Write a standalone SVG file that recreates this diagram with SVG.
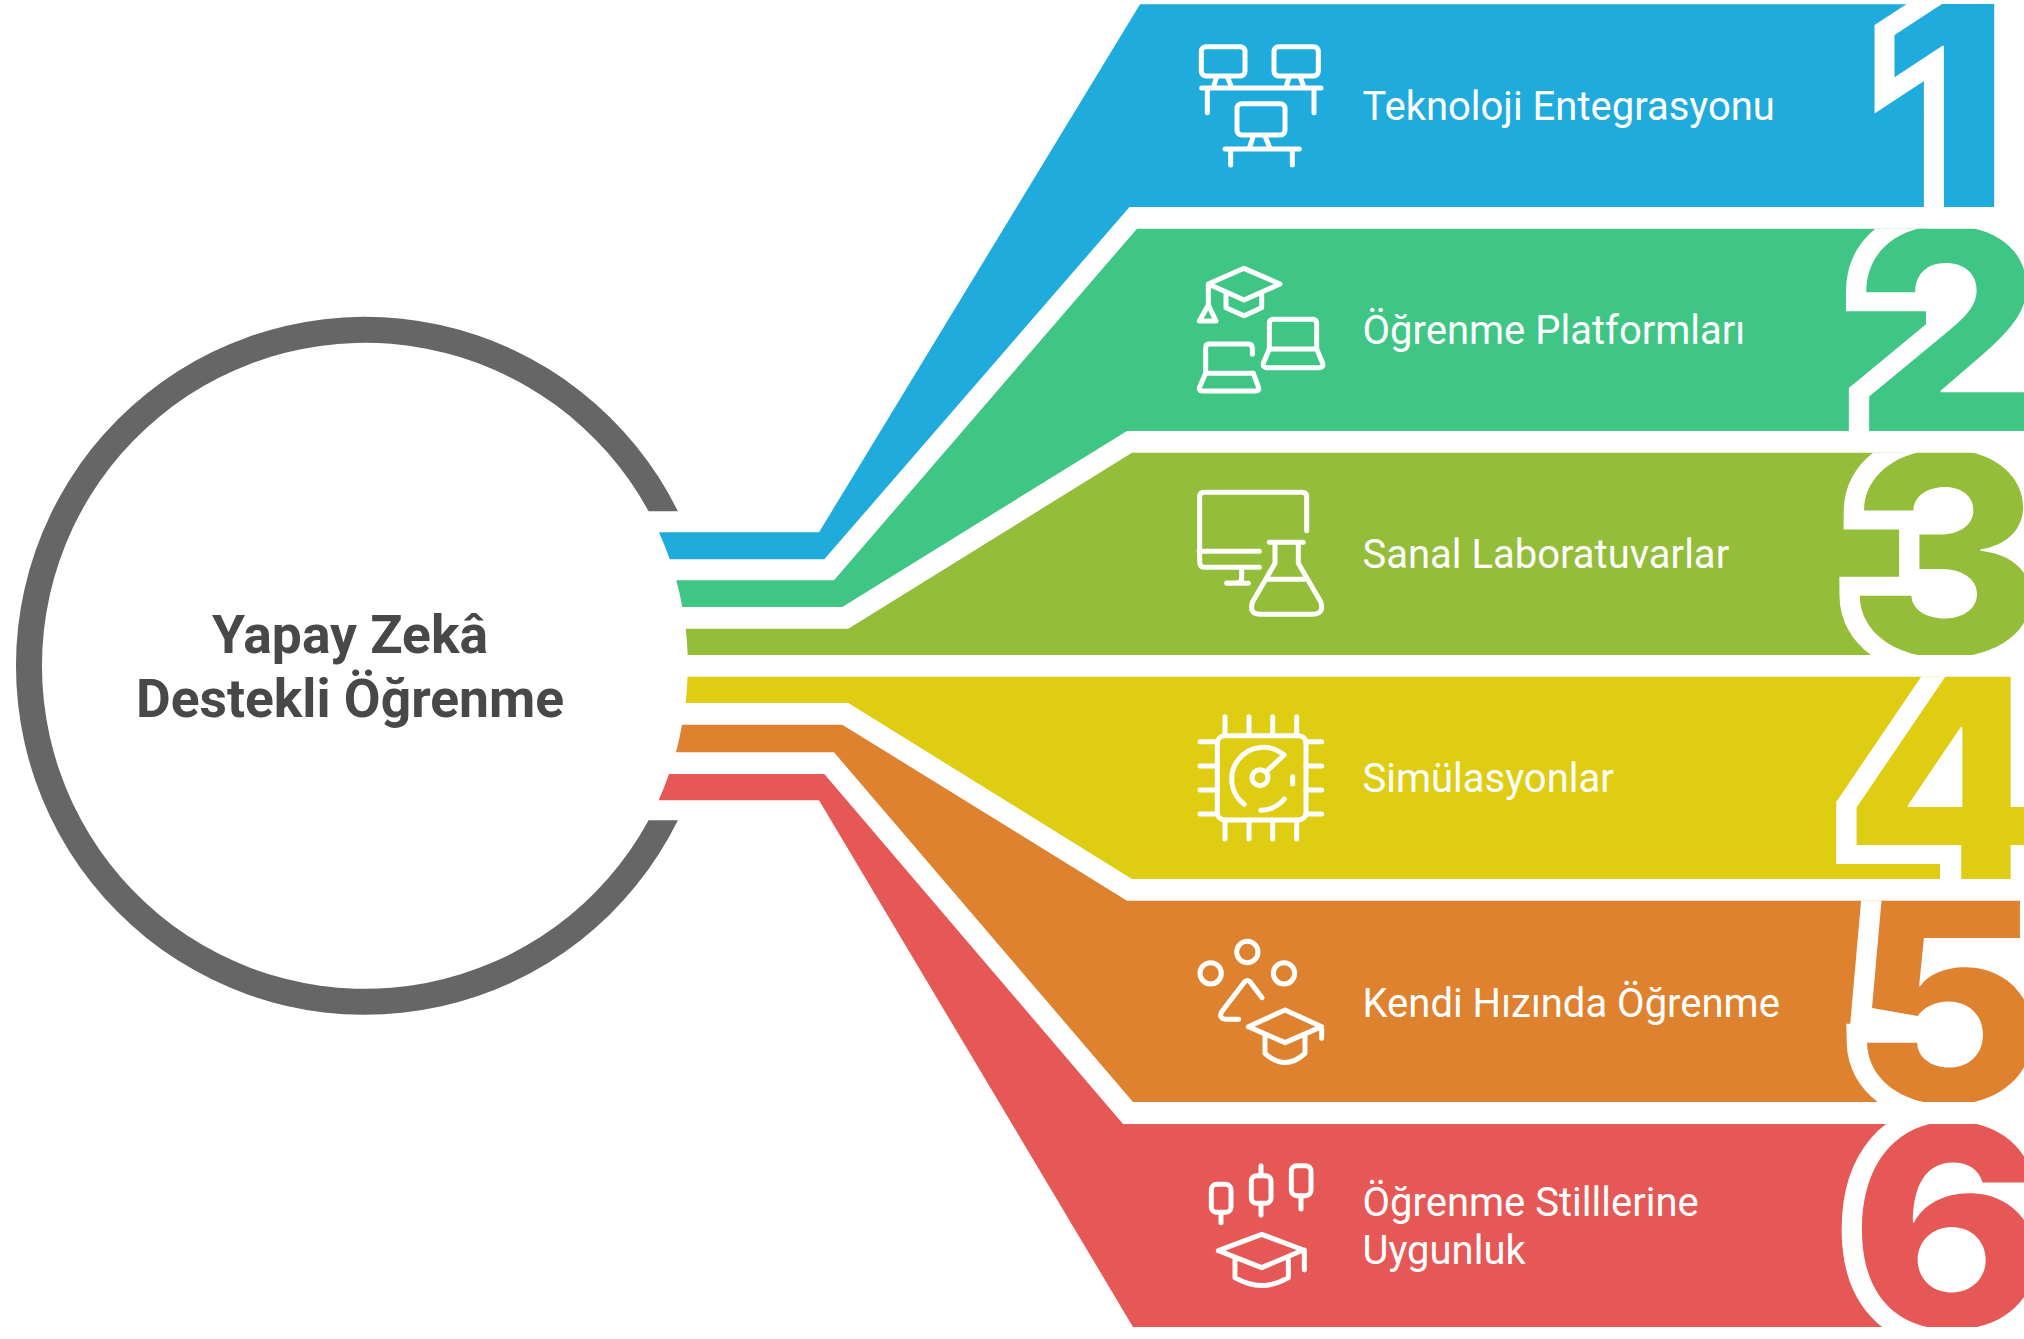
<svg xmlns="http://www.w3.org/2000/svg" width="2024" height="1339" viewBox="0 0 2024 1339">
<style>
.lb{font-family:Roboto,"Liberation Sans",sans-serif;font-size:40px;fill:#fff}
.tt{font-family:Roboto,"Liberation Sans",sans-serif;font-size:53.4px;font-weight:700;fill:#484848;text-anchor:middle}
.dg{font-family:Inter,"Liberation Sans",sans-serif;font-size:279px;font-weight:800;stroke:#fff;stroke-width:38px;stroke-linejoin:miter;stroke-miterlimit:3;paint-order:stroke}
.ic{fill:none;stroke:#fff;stroke-width:15;stroke-linecap:round;stroke-linejoin:round}
</style>
<defs>
<clipPath id="r1"><rect x="1800" y="0" width="224" height="207"/></clipPath>
<clipPath id="r2"><rect x="1800" y="228.7" width="224" height="202.3"/></clipPath>
<clipPath id="r3"><rect x="1800" y="452.7" width="224" height="202.3"/></clipPath>
<clipPath id="r4"><rect x="1800" y="676.7" width="224" height="202.3"/></clipPath>
<clipPath id="r5"><rect x="1800" y="900.7" width="224" height="201.3"/></clipPath>
<clipPath id="r6"><rect x="1800" y="1124" width="224" height="203"/></clipPath>
</defs>
<rect width="2024" height="1339" fill="#fff"/>
<g id="center">
<path d="M677.9 511.3A349 349 0 1 0 677.9 820.3H648.6A323 323 0 1 1 648.6 511.3Z" fill="#666"/>
<text class="tt" x="350" y="652.7">Yapay Zekâ</text>
<text class="tt" x="350" y="716.7">Destekli Öğrenme</text>
</g>
<g id="node1">
<path d="M659 532.3H819L1140 4.3H1935V207H1129.5L824.3 559.3H669.7A323 323 0 0 0 659 532.3Z" fill="#1fabdc"/>
<g clip-path="url(#r1)"><text class="dg" transform="translate(1881.5 207) scale(1.05 1)" fill="#1fabdc">1</text></g>
<text class="lb" x="1362.5" y="120">Teknoloji Entegrasyonu</text>
<g class="ic" transform="translate(1190 30) scale(.33333)">
<rect x="34" y="50" width="131" height="88" rx="14"/><rect x="252" y="50" width="133" height="88" rx="14"/><rect x="141" y="221" width="144" height="94" rx="14"/>
<path d="M80 140L70 172M112 140L125 172M298 140L288 172M330 140L342 172M35 174H393M52 174V248M372 174V248M190 318L178 355M225 318L240 355M105 357H328M122 357V405M307 357V405"/>
</g>
</g>
<g id="node2">
<path d="M676.3 580.3H834L1137 228.7H1926V431H1127L842.3 607H682.3A323 323 0 0 0 676.3 580.3Z" fill="#3fc685"/>
<g clip-path="url(#r2)"><text class="dg" transform="translate(1853 431) scale(1.07 1)" fill="#3fc685">2</text></g>
<text class="lb" x="1362.5" y="343.5">Öğrenme Platformları</text>
<g class="ic" transform="translate(1190 255) scale(.33333)">
<path d="M162 40L270 87L162 135L55 87ZM55 87V150M55 150L28 198H78ZM108 115V158L162 182L215 158V112"/>
<path d="M238 282V205Q238 193 250 193H368Q380 193 380 205V282M238 282H380M238 282L220 325Q218 338 230 338H388Q402 338 398 325L380 282"/>
<path d="M47 355V278Q47 267 58 267H175Q187 267 187 279V298M47 355H190M47 355L28 398Q26 408 38 408H198Q208 408 206 398L190 355"/>
</g>
</g>
<g id="node3">
<path d="M685.7 628.7H848.3L1132 452.7H1905V655H687.7A323 323 0 0 0 685.7 628.7Z" fill="#94bd3a"/>
<g clip-path="url(#r3)"><text class="dg" transform="translate(1847 655) scale(1.07 1)" fill="#94bd3a">3</text></g>
<text class="lb" x="1362.5" y="568">Sanal Laboratuvarlar</text>
<g class="ic" transform="translate(1190 480) scale(.33333)">
<path d="M350 152V50Q350 37 336 37H42Q29 37 29 50V245Q29 262 46 262H208M27 214H208M155 262V295Q155 309 141 309H110M110 310H175"/>
<path d="M238 187H340M255 187V250L188 365Q175 403 212 403H365Q405 403 392 365L325 250V187M232 298H350"/>
</g>
</g>
<g id="node4">
<path d="M687.5 676.7H1940V879H1132L848.3 703H685.7A323 323 0 0 0 687.5 676.7Z" fill="#dfcd14"/>
<g clip-path="url(#r4)"><text class="dg" transform="translate(1843 879) scale(1.07 1)" fill="#dfcd14">4</text></g>
<text class="lb" x="1362.5" y="792">Simülasyonlar</text>
<g class="ic" transform="translate(1190 705) scale(.33333)">
<rect x="82" y="92" width="266" height="253" rx="22"/>
<path d="M105 35V92M177 35V92M248 35V92M320 35V92M105 345V402M177 345V402M248 345V402M320 345V402M30 110H82M30 183H82M30 255H82M30 327H82M348 110H395M348 183H395M348 255H395M348 327H395"/>
<circle cx="210" cy="218" r="24"/>
<path d="M163 298A95 95 0 1 1 282 150L232 197M308 215V237M212 316Q255 315 283 282"/>
</g>
</g>
<g id="node5">
<path d="M682 724.7H842.3L1127 900.7H1885V1102H1133L834 752.3H676A323 323 0 0 0 682 724.7Z" fill="#de8230"/>
<g clip-path="url(#r5)"><text class="dg" transform="translate(1850 1102) scale(1.07 1)" fill="#de8230">5</text></g>
<text class="lb" x="1362.5" y="1016.5">Kendi Hızında Öğrenme</text>
<g class="ic" transform="translate(1190 930) scale(.33333)">
<circle cx="172" cy="66" r="32"/><circle cx="62" cy="130" r="32"/><circle cx="282" cy="130" r="32"/>
<path d="M216 203L180 155Q172 148 164 155L95 245Q85 266 108 268H146M285 240L395 290L285 338L175 290ZM395 290V325M225 320V370Q285 425 345 370V320"/>
</g>
</g>
<g id="node6">
<path d="M669 774H824.3L1123 1124H1886V1327H1133L819 800.3H658.7A323 323 0 0 0 669 774Z" fill="#e65855"/>
<g clip-path="url(#r6)"><text class="dg" transform="translate(1850 1327) scale(1.07 1)" fill="#e65855">6</text></g>
<text class="lb" x="1362.5" y="1216.2">Öğrenme Stilllerine</text>
<text class="lb" x="1362.5" y="1264">Uygunluk</text>
<g class="ic" transform="translate(1190 1155) scale(.33333)">
<rect x="64" y="88" width="59" height="84" rx="16"/><rect x="184" y="62" width="59" height="83" rx="16"/><rect x="304" y="32" width="59" height="90" rx="16"/>
<path d="M93 172V203M213 32V62M213 145V180M333 122V162M215 238L340 285L215 338L85 287ZM343 285V345M135 315V368Q215 415 295 368V315"/>
</g>
</g>
<g id="connectors"/>
</svg>
